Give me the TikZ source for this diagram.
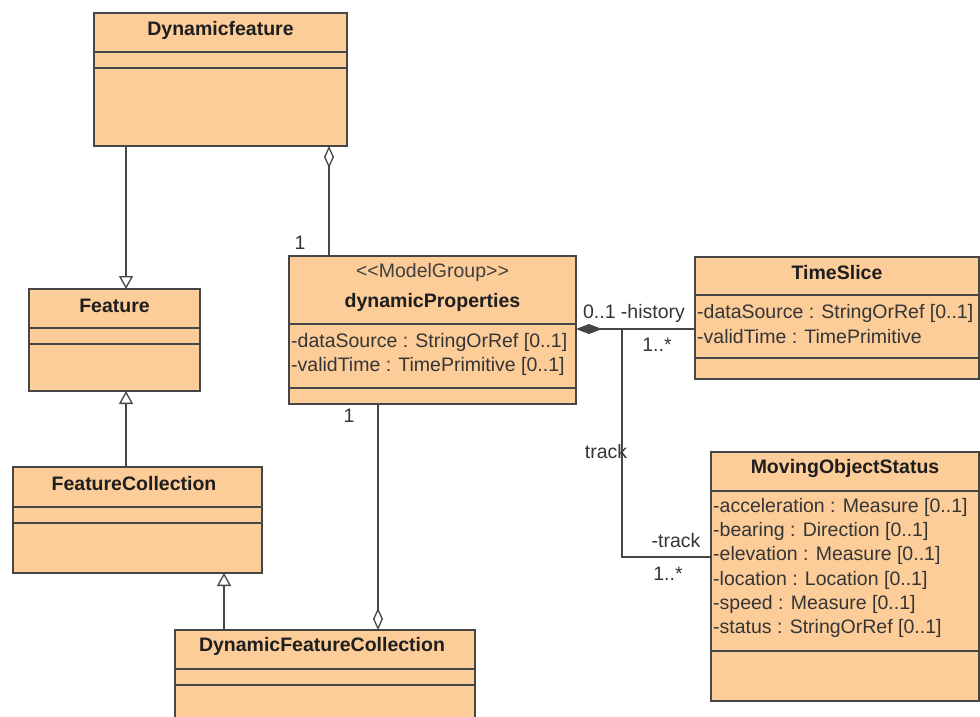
\documentclass[tikz,border=0pt]{standalone}
\usepackage{fontspec}
\setmainfont{Liberation Sans}
\usetikzlibrary{arrows.meta}
\definecolor{clsfill}{RGB}{252,204,153}
\definecolor{clsline}{RGB}{70,70,70}
\definecolor{txt}{RGB}{30,30,30}
\tikzset{
  cls/.style={draw=clsline, fill=clsfill, line width=1.4pt, rectangle, inner sep=0pt, outer sep=0pt},
  divline/.style={draw=clsline, line width=1.4pt},
  ttl/.style={font=\fontsize{19.5}{24}\selectfont\bfseries, text=txt, inner sep=0pt},
  stereo/.style={font=\fontsize{19.5}{24}\selectfont, text=txt!85, inner sep=0pt},
  attr/.style={font=\fontsize{19.5}{24}\selectfont, text=txt!90, inner sep=0pt, anchor=west},
  lbl/.style={font=\fontsize{19.5}{24}\selectfont, text=txt!90, inner sep=0pt},
  conn/.style={draw=clsline, line width=1.3pt},
  gen/.style={conn, -{Triangle[open, width=14pt, length=13pt, fill=white]}},
  agg/.style={conn, {Diamond[open, width=10pt, length=22pt, fill=white]}-},
  comp/.style={conn, {Diamond[width=10pt, length=26pt, fill=clsline]}-},
}
\newcommand\classbox[7]{%
  \node[cls, anchor=north west, minimum width={#4pt-#2pt}, minimum height={#5pt-#3pt}] (#1) at (#2,#3) {};
  \draw[divline] (#2,#6) -- (#4,#6);
  \draw[divline] (#2,#7) -- (#4,#7);
}
\begin{document}
\begin{tikzpicture}[x=1pt,y=-1pt]
\useasboundingbox (0,0) rectangle (980,717);
\clip (0,0) rectangle (980,717);
\fill[white] (0,0) rectangle (980,717);

% classes
\classbox{df}{94}{13}{347}{146}{52}{68}
\node[ttl] (dft) at (220.5,30) {Dynamicfeature};

\classbox{feat}{29}{289}{200}{391}{328}{344}
\node[ttl] (featt) at (114.5,306) {Feature};

\classbox{fc}{13}{467}{262}{573}{507}{523}
\node[ttl] (fct) at (134,484) {FeatureCollection};

\classbox{dfc}{175}{630}{475}{740}{669}{685}
\node[ttl] (dfct) at (322,646) {DynamicFeatureCollection};

\classbox{dp}{289}{256}{576}{404}{324}{388}
\node[stereo] (dps) at (432.5,272) {<{}<ModelGroup>{}>};
\node[ttl] (dpt) at (432.5,302) {dynamicProperties};
\node[attr] (dpa1) at (291,342) {-dataSource : StringOrRef [0..1]};
\node[attr] (dpa2) at (291,366) {-validTime : TimePrimitive [0..1]};

\classbox{ts}{695}{257}{979}{379}{295}{358}
\node[ttl] (tst) at (837,273) {TimeSlice};
\node[attr] (tsa1) at (697,313) {-dataSource : StringOrRef [0..1]};
\node[attr] (tsa2) at (697,337) {-validTime : TimePrimitive};

\classbox{mos}{711}{452}{979}{701}{491}{651}
\node[ttl] (most) at (845,468) {MovingObjectStatus};
\node[attr] (mosa1) at (713,507) {-acceleration : Measure [0..1]};
\node[attr] (mosa2) at (713,531) {-bearing : Direction [0..1]};
\node[attr] (mosa3) at (713,555) {-elevation : Measure [0..1]};
\node[attr] (mosa4) at (713,580) {-location : Location [0..1]};
\node[attr] (mosa5) at (713,604) {-speed : Measure [0..1]};
\node[attr] (mosa6) at (713,628) {-status : StringOrRef [0..1]};

% generalizations
\draw[gen] (126,0 |- df.south) -- (126,0 |- feat.north);
\draw[gen] (126,0 |- fc.north) -- (126,0 |- feat.south);
\draw[gen] (224,0 |- dfc.north) -- (224,0 |- fc.south);

% aggregations
\draw[agg] (329,0 |- df.south) -- (329,0 |- dp.north);
\draw[agg] (378,0 |- dfc.north) -- (378,0 |- dp.south);

% composition history / track
\coordinate (jn) at (622,329);
\coordinate (bend) at (622,557);
\draw[comp] (0,329 -| dp.east) -- (0,329 -| ts.west);
\draw[conn] (jn) -- (bend) -- (bend -| mos.west);

% labels
\node[lbl] (l1) at (300,243) {1};
\node[lbl] (l2) at (349,416) {1};
\node[lbl] (l3) at (634,313) {0..1 -history};
\node[lbl] (l4) at (657,345) {1..*};
\node[lbl] (l5) at (606,452) {track};
\node[lbl] (l6) at (676,541) {-track};
\node[lbl] (l7) at (668,574) {1..*};
\end{tikzpicture}
\end{document}
